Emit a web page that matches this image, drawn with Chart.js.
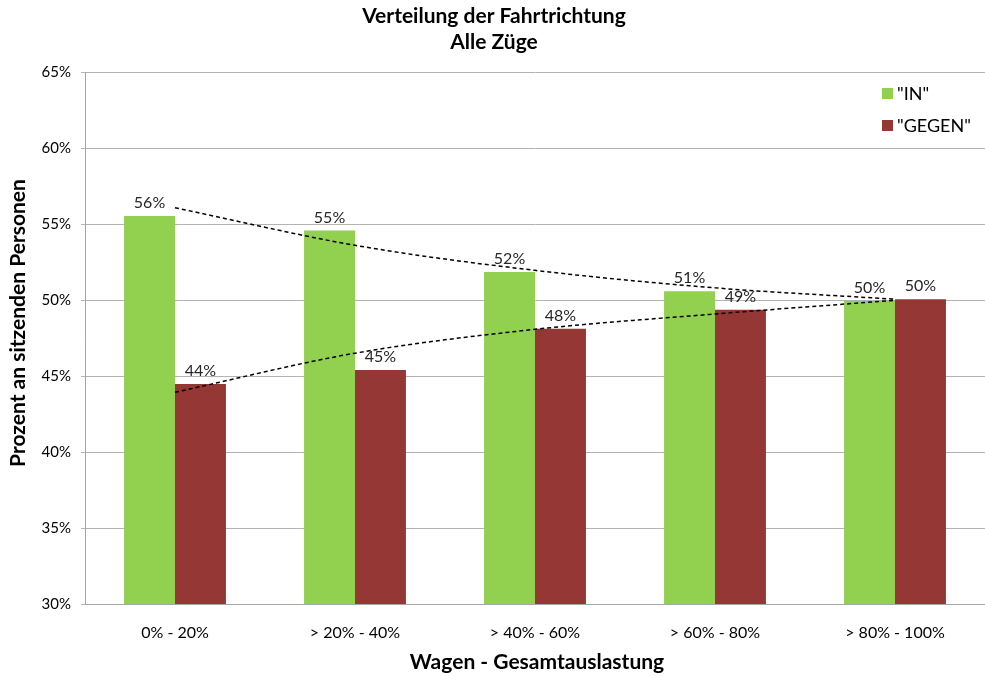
<!DOCTYPE html>
<html>
<head>
<meta charset="utf-8">
<script src="https://cdn.jsdelivr.net/npm/chart.js@4.4.0/dist/chart.umd.min.js"></script>
<style>
  html, body { margin: 0; padding: 0; background: #fff; }
  #wrap { width: 985px; height: 677px; }
</style>
</head>
<body>
<div id="wrap"><canvas id="chart" width="985" height="677"></canvas></div>
<script>
// data
const categories = ['0% - 20%', '> 20% - 40%', '> 40% - 60%', '> 60% - 80%', '> 80% - 100%'];
const inValues = [55.53, 54.58, 51.84, 50.57, 49.93];
const gegenValues = [44.47, 45.40, 48.11, 49.36, 50.05];
// dashed trend lines (values read at each category centre)
const inTrend = [56.07, 53.60, 51.95, 50.80, 50.05];
const gegenTrend = [43.93, 46.50, 48.07, 49.08, 49.98];
const yTicks = [30, 35, 40, 45, 50, 55, 60, 65];

const FONT = 'Lato, "Open Sans", sans-serif';
const GREEN = '#92D050';
const RED = '#953735';

const textPlugin = {
    id: 'texts',
    afterDatasetsDraw(chart) {
        const ctx = chart.ctx;
        ctx.save();
        // value labels above bars
        ctx.fillStyle = '#262626';
        ctx.font = '16px ' + FONT;
        ctx.textAlign = 'center';
        ctx.textBaseline = 'bottom';
        [0, 1].forEach(i => {
            const meta = chart.getDatasetMeta(i);
            meta.data.forEach((bar, j) => {
                const v = chart.data.datasets[i].data[j];
                ctx.fillText(Math.round(v) + '%', bar.x, bar.y - 5);
            });
        });
        ctx.restore();
    },
    afterDraw(chart) {
        const ctx = chart.ctx;
        const area = chart.chartArea;
        ctx.save();
        ctx.fillStyle = '#000';
        ctx.textAlign = 'center';
        ctx.textBaseline = 'middle';
        ctx.font = 'bold 21px ' + FONT;
        ctx.fillText('Verteilung der Fahrtrichtung', 494, 16);
        ctx.fillText('Alle Züge', 494, 42);
        ctx.fillText('Wagen - Gesamtauslastung', (area.left + area.right) / 2 + 2, 662);
        ctx.save();
        ctx.translate(18, (area.top + area.bottom) / 2 - 15);
        ctx.rotate(-Math.PI / 2);
        ctx.font = 'bold 21px ' + FONT;
        ctx.fillText('Prozent an sitzenden Personen', 0, 0);
        ctx.restore();
        // legend
        ctx.textAlign = 'left';
        ctx.font = '18px ' + FONT;
        ctx.fillStyle = GREEN;
        ctx.fillRect(882, 88, 11, 11);
        ctx.fillStyle = RED;
        ctx.fillRect(882, 120, 11, 11);
        ctx.fillStyle = '#000';
        ctx.fillText('"IN"', 897, 94);
        ctx.fillText('"GEGEN"', 897, 126);
        ctx.restore();
    }
};

new Chart(document.getElementById('chart').getContext('2d'), {
    type: 'bar',
    data: {
        labels: categories,
        datasets: [
            { label: '"IN"', data: inValues, backgroundColor: GREEN, borderWidth: 0,
              categoryPercentage: 0.566, barPercentage: 1, order: 2 },
            { label: '"GEGEN"', data: gegenValues, backgroundColor: RED, borderWidth: 0,
              categoryPercentage: 0.566, barPercentage: 1, order: 2 },
            { type: 'line', label: 'trend IN', data: inTrend, borderColor: '#000',
              borderWidth: 1.5, borderDash: [4, 3], pointRadius: 0, fill: false,
              cubicInterpolationMode: 'monotone', order: 1 },
            { type: 'line', label: 'trend GEGEN', data: gegenTrend, borderColor: '#000',
              borderWidth: 1.5, borderDash: [4, 3], pointRadius: 0, fill: false,
              cubicInterpolationMode: 'monotone', order: 1 }
        ]
    },
    options: {
        responsive: false,
        animation: false,
        layout: { padding: { top: 72, right: 0, left: 0, bottom: 0 } },
        plugins: {
            legend: { display: false },
            title: { display: false },
            tooltip: { enabled: false }
        },
        scales: {
            x: {
                offset: true,
                grid: { display: false, drawTicks: false },
                border: { color: '#a6a6a6' },
                ticks: { color: '#000', font: { family: FONT, size: 16 }, padding: 19, maxRotation: 0 },
                afterFit: s => { s.height = 73; }
            },
            y: {
                min: 30, max: 65,
                afterBuildTicks: s => { s.ticks = yTicks.map(v => ({ value: v })); },
                grid: { color: '#b3b3b3', tickLength: 4 },
                border: { color: '#a6a6a6' },
                ticks: { color: '#000', font: { family: FONT, size: 15 }, padding: 10,
                         callback: v => v + '%' },
                afterFit: s => { s.width = 85; }
            }
        }
    },
    plugins: [textPlugin]
});
</script>
</body>
</html>
